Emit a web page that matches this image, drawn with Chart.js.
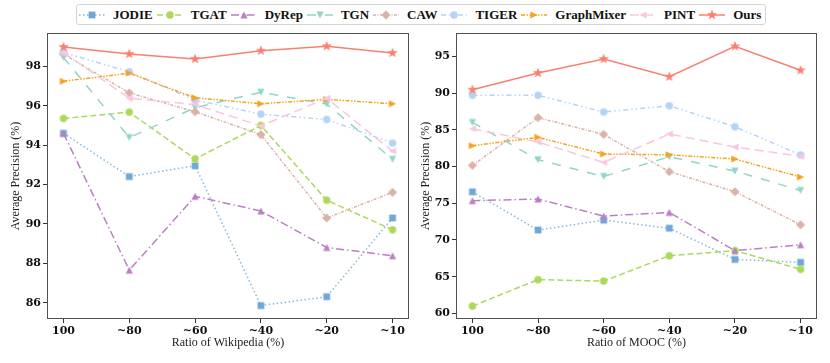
<!DOCTYPE html>
<html><head><meta charset="utf-8">
<script src="https://cdn.jsdelivr.net/npm/chart.js@4.4.0/dist/chart.umd.min.js"></script>
<style>
html,body{margin:0;padding:0;background:#fff;width:830px;height:363px;overflow:hidden;}
.wrap{position:absolute;top:0;width:415px;height:363px;}
#w1{left:0;} #w2{left:415px;}
#legend{position:absolute;left:76px;top:4px;height:21px;border:1px solid #d4d4d4;border-radius:3px;display:flex;align-items:center;padding:0 4px 0 2px;font:bold 13px "Liberation Serif",serif;color:#111;box-sizing:border-box;background:#fff;white-space:nowrap;}
.item{display:flex;align-items:center;margin-right:4px;}
.item:last-child{margin-right:0;}
.item canvas{margin-right:8px;}
</style>
</head><body>
<div id="legend"></div>
<div class="wrap" id="w1"><canvas id="c1" width="415" height="363"></canvas></div>
<div class="wrap" id="w2"><canvas id="c2" width="415" height="363"></canvas></div>
<script>
// ---- data ----
const categories = ['100', '~80', '~60', '~40', '~20', '~10'];
const methods = ['JODIE', 'TGAT', 'DyRep', 'TGN', 'CAW', 'TIGER', 'GraphMixer', 'PINT', 'Ours'];

const wikiJODIE      = [94.6, 92.4, 92.95, 85.85, 86.3, 90.3];
const wikiTGAT       = [95.35, 95.67, 93.3, 95.0, 91.2, 89.7];
const wikiDyRep      = [94.6, 87.65, 91.4, 90.65, 88.8, 88.38];
const wikiTGN        = [98.45, 94.38, 95.9, 96.68, 96.08, 93.28];
const wikiCAW        = [98.62, 96.65, 95.69, 94.53, 90.3, 91.6];
const wikiTIGER      = [98.7, 97.72, 96.28, 95.57, 95.3, 94.1];
const wikiGraphMixer = [97.24, 97.65, 96.4, 96.1, 96.32, 96.1];
const wikiPINT       = [98.71, 96.37, 96.06, 94.97, 96.38, 93.69];
const wikiOurs       = [98.98, 98.63, 98.37, 98.79, 99.02, 98.68];

const moocJODIE      = [76.55, 71.35, 72.7, 71.6, 67.35, 66.95];
const moocTGAT       = [61.0, 64.6, 64.4, 67.85, 68.55, 66.0];
const moocDyRep      = [75.35, 75.57, 73.26, 73.75, 68.55, 69.35];
const moocTGN        = [86.0, 80.93, 78.65, 81.33, 79.38, 76.74];
const moocCAW        = [80.15, 86.65, 84.37, 79.3, 76.57, 72.07];
const moocTIGER      = [89.7, 89.7, 87.42, 88.28, 85.42, 81.57];
const moocGraphMixer = [82.83, 83.97, 81.7, 81.6, 81.02, 78.57];
const moocPINT       = [85.15, 83.33, 80.56, 84.43, 82.66, 81.38];
const moocOurs       = [90.46, 92.74, 94.64, 92.23, 96.36, 93.1];

const wikiTicks = [86, 88, 90, 92, 94, 96, 98];
const moocTicks = [60, 65, 70, 75, 80, 85, 90, 95];

const wikiSeries = [wikiJODIE, wikiTGAT, wikiDyRep, wikiTGN, wikiCAW, wikiTIGER, wikiGraphMixer, wikiPINT, wikiOurs];
const moocSeries = [moocJODIE, moocTGAT, moocDyRep, moocTGN, moocCAW, moocTIGER, moocGraphMixer, moocPINT, moocOurs];

// ---- styles ----
const styles = [
  {color:'#6fa8d8', line:'#86b8e0', dash:[1.5,2.5], shape:'square'},
  {color:'#acd95a', line:'#acd95a', dash:[6,3], shape:'circle'},
  {color:'#bb7fc3', line:'#bb7fc3', dash:[8,3,1.5,3], shape:'triUp'},
  {color:'#8fd6c8', line:'#8fd6c8', dash:[9,9], shape:'triDown'},
  {color:'#d9b3a6', line:'#d9b3a6', dash:[3,1.5,1,1.5], shape:'diamond'},
  {color:'#b5d3f7', line:'#b5d3f7', dash:[5,3,1.5,3,1.5,3], shape:'circle'},
  {color:'#f5a31f', line:'#f5a31f', dash:[4,1.5,1.5,1.5,1.5,1.5], shape:'triRight'},
  {color:'#f9c6e0', line:'#f9c6e0', dash:[9,5], shape:'triLeft'},
  {color:'#fa7f6f', line:'#fa7f6f', dash:[], shape:'star'}
];

function drawShape(ctx, shape, cx, cy, color) {
  ctx.fillStyle = color;
  ctx.beginPath();
  const s = 3.6;
  switch (shape) {
    case 'square': ctx.rect(cx-3.4, cy-3.4, 6.8, 6.8); break;
    case 'circle': ctx.arc(cx, cy, 3.7, 0, Math.PI*2); break;
    case 'triUp': ctx.moveTo(cx, cy-s); ctx.lineTo(cx+s, cy+s); ctx.lineTo(cx-s, cy+s); break;
    case 'triDown': ctx.moveTo(cx, cy+s); ctx.lineTo(cx+s, cy-s); ctx.lineTo(cx-s, cy-s); break;
    case 'triRight': ctx.moveTo(cx+s, cy); ctx.lineTo(cx-s, cy-s); ctx.lineTo(cx-s, cy+s); break;
    case 'triLeft': ctx.moveTo(cx-s, cy); ctx.lineTo(cx+s, cy-s); ctx.lineTo(cx+s, cy+s); break;
    case 'diamond': ctx.moveTo(cx, cy-4.6); ctx.lineTo(cx+4.6, cy); ctx.lineTo(cx, cy+4.6); ctx.lineTo(cx-4.6, cy); break;
    case 'star': {
      const R = 5.4, r = 2.2;
      for (let k = 0; k < 10; k++) {
        const a = -Math.PI/2 + k*Math.PI/5;
        const rr = k % 2 === 0 ? R : r;
        const px = cx + rr*Math.cos(a), py = cy + rr*Math.sin(a);
        if (k === 0) ctx.moveTo(px, py); else ctx.lineTo(px, py);
      }
      break;
    }
  }
  ctx.closePath();
  ctx.fill();
}

function makeMarker(st) {
  const c = document.createElement('canvas');
  c.width = 12; c.height = 12;
  drawShape(c.getContext('2d'), st.shape, 6, 6, st.color);
  return c;
}
const markers = styles.map(makeMarker);

// ---- legend ----
const legend = document.getElementById('legend');
methods.forEach((m, i) => {
  const st = styles[i];
  const item = document.createElement('div'); item.className = 'item';
  const c = document.createElement('canvas'); c.width = 26; c.height = 14;
  const ctx = c.getContext('2d');
  ctx.strokeStyle = st.line; ctx.lineWidth = 1.5; ctx.setLineDash(st.dash);
  ctx.beginPath(); ctx.moveTo(0, 7); ctx.lineTo(26, 7); ctx.stroke();
  ctx.setLineDash([]);
  drawShape(ctx, st.shape, 13, 7, st.color);
  const t = document.createElement('span'); t.textContent = m;
  item.appendChild(c); item.appendChild(t); legend.appendChild(item);
});

// ---- charts ----
const framePlugin = {
  id: 'frame',
  afterDatasetsDraw(chart) {
    const a = chart.chartArea, ctx = chart.ctx;
    ctx.save(); ctx.strokeStyle = '#505050'; ctx.lineWidth = 1;
    ctx.strokeRect(Math.round(a.left)+0.5, Math.round(a.top)+0.5, Math.round(a.right-a.left)-1, Math.round(a.bottom-a.top)-1);
    ctx.restore();
  }
};

const tickFont = {family:'"DejaVu Serif", serif', size: 11, weight: 'bold'};
const titleFont = {family:'"Liberation Serif", serif', size: 12};

function makeChart(id, series, yMin, yMax, yTicks, xTitle, yWidth, padRight, yTitlePad) {
  const datasets = series.map((vals, i) => ({
    label: methods[i],
    data: vals.map((v, j) => ({x: j, y: v})),
    borderColor: styles[i].line,
    backgroundColor: styles[i].color,
    borderWidth: 1.5,
    borderDash: styles[i].dash,
    pointStyle: markers[i],
    pointRadius: 4,
    order: series.length - 1 - i,
    tension: 0
  }));
  return new Chart(document.getElementById(id), {
    type: 'line',
    data: {datasets},
    plugins: [framePlugin],
    options: {
      responsive: false, animation: false,
      layout: {padding: {top: 33, right: padRight, left: 0, bottom: 0}},
      plugins: {legend: {display: false}, tooltip: {enabled: false}},
      scales: {
        x: {
          type: 'linear', min: -0.25, max: 5.25,
          afterBuildTicks: s => { s.ticks = categories.map((c, i) => ({value: i})); },
          afterFit: s => { s.height = 44; },
          ticks: {callback: v => categories[v], font: tickFont, color: '#111', padding: 2, maxRotation: 0, autoSkip: false},
          grid: {drawOnChartArea: false, tickLength: 4, tickColor: '#333'},
          border: {display: false},
          title: {display: true, text: xTitle, font: titleFont, color: '#222', padding: {top: 0, bottom: 12.5}}
        },
        y: {
          type: 'linear', min: yMin, max: yMax,
          afterBuildTicks: s => { s.ticks = yTicks.map(v => ({value: v})); },
          afterFit: s => { s.width = yWidth; },
          ticks: {font: tickFont, color: '#111', padding: 2},
          grid: {drawOnChartArea: false, tickLength: 4, tickColor: '#333'},
          border: {display: false},
          title: {display: true, text: 'Average Precision (%)', font: titleFont, color: '#222', padding: {top: yTitlePad, bottom: 0}}
        }
      }
    }
  });
}

makeChart('c1', wikiSeries, 85.17, 99.69, wikiTicks, 'Ratio of Wikipedia (%)', 47, 6, 9);
makeChart('c2', moocSeries, 59.24, 98.18, moocTicks, 'Ratio of MOOC (%)', 41, 13, 4);
</script>
</body></html>
